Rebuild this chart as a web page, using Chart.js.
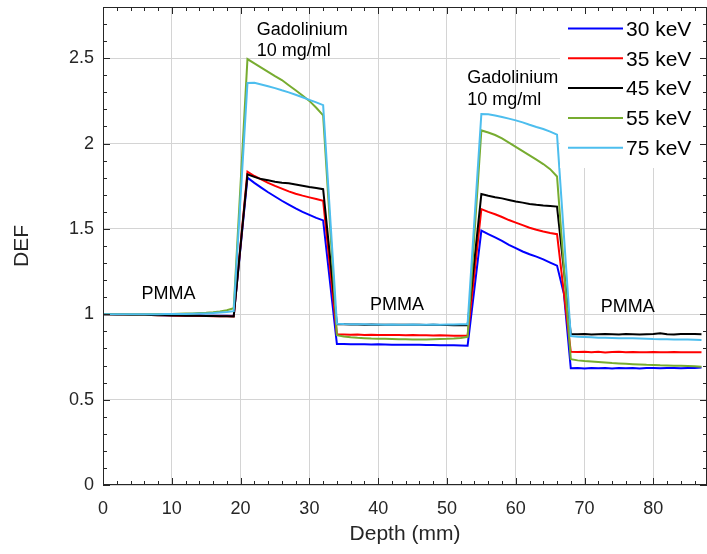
<!DOCTYPE html>
<html>
<head>
<meta charset="utf-8">
<script src="https://cdn.jsdelivr.net/npm/chart.js@4.4.1/dist/chart.umd.min.js"></script>
<style>
  html, body { margin: 0; padding: 0; background: #fff; }
  canvas { display: block; }
</style>
</head>
<body>
<canvas id="chart" width="707" height="554"></canvas>
<script>
// depth in mm, one sample per mm (null = no sample drawn on the edge)
const depth = [
  0, 1, 2, 3, 4, 5, 6, 7, 8, 9, 10, 11, 12, 13, 14, 15, 16, 17, 18, 19,
  20, 21, 22, 23, 24, 25, 26, 27, 28, 29, 30, 31, 32, 33,
  34, 35, 36, 37, 38, 39, 40, 41, 42, 43, 44, 45, 46, 47, 48, 49, 50, 51, 52, 53,
  54, 55, 56, 57, 58, 59, 60, 61, 62, 63, 64, 65, 66, 67,
  68, 69, 70, 71, 72, 73, 74, 75, 76, 77, 78, 79, 80, 81, 82, 83, 84, 85, 86, 87
];

const def30 = [
  1.000, 1.000, 0.999, 0.999, 0.998, 0.998, 0.997, 0.996, 0.996, 0.995, 0.995, 0.994, 0.994, 0.993, 0.993, 0.992, 0.992, 0.991, 0.991, 0.990,
  null, 1.800, 1.770, 1.742, 1.715, 1.690, 1.665, 1.642, 1.620, 1.600, 1.582, 1.565, 1.550, null,
  0.826, 0.826, 0.825, 0.825, 0.824, 0.823, 0.824, 0.823, 0.822, 0.822, 0.821, 0.822, 0.821, 0.820, 0.820, 0.819, 0.819, 0.818, 0.817, 0.816,
  null, 1.490, 1.470, 1.450, 1.430, 1.407, 1.387, 1.368, 1.352, 1.338, 1.322, 1.303, 1.285, 1.120,
  0.684, 0.685, 0.683, 0.686, 0.684, 0.685, 0.682, 0.686, 0.684, 0.685, 0.683, 0.686, 0.685, 0.684, 0.686, 0.685, 0.684, 0.686, 0.685, 0.688
];
const def35 = [
  1.000, 0.999, 0.999, 0.998, 0.998, 0.997, 0.997, 0.996, 0.995, 0.994, 0.993, 0.992, 0.992, 0.991, 0.990, 0.990, 0.989, 0.989, 0.988, 0.987,
  null, 1.835, 1.810, 1.790, 1.770, 1.752, 1.736, 1.720, 1.706, 1.695, 1.685, 1.675, 1.665, null,
  0.882, 0.881, 0.880, 0.881, 0.879, 0.880, 0.879, 0.878, 0.879, 0.878, 0.877, 0.878, 0.877, 0.877, 0.876, 0.877, 0.876, 0.875, 0.875, 0.875,
  null, 1.616, 1.600, 1.586, 1.570, 1.552, 1.537, 1.522, 1.507, 1.495, 1.485, 1.476, 1.469, null,
  0.780, 0.779, 0.781, 0.778, 0.780, 0.776, 0.779, 0.780, 0.778, 0.779, 0.777, 0.778, 0.779, 0.778, 0.778, 0.779, 0.778, 0.777, 0.778, 0.777
];
const def45 = [
  1.000, 1.000, 0.999, 0.999, 0.998, 0.998, 0.997, 0.996, 0.995, 0.994, 0.993, 0.993, 0.992, 0.991, 0.991, 0.990, 0.990, 0.989, 0.988, 0.987,
  null, 1.820, 1.805, 1.792, 1.785, 1.777, 1.771, 1.767, 1.760, 1.753, 1.746, 1.740, 1.733, null,
  0.942, 0.941, 0.940, 0.940, 0.939, 0.940, 0.939, 0.938, 0.939, 0.938, 0.938, 0.939, 0.938, 0.937, 0.938, 0.937, 0.937, 0.936, 0.937, 0.936,
  null, 1.704, 1.694, 1.686, 1.679, 1.670, 1.661, 1.654, 1.646, 1.641, 1.637, 1.634, 1.631, null,
  0.884, 0.883, 0.884, 0.882, 0.883, 0.884, 0.883, 0.882, 0.884, 0.883, 0.882, 0.883, 0.884, 0.889, 0.883, 0.881, 0.884, 0.885, 0.884, 0.883
];
const def55 = [
  1.000, 1.000, 1.000, 1.000, 1.000, 1.000, 1.000, 1.001, 1.001, 1.002, 1.002, 1.003, 1.004, 1.005, 1.007, 1.009, 1.012, 1.017, 1.024, 1.035,
  null, 2.495, 2.470, 2.445, 2.420, 2.395, 2.372, 2.342, 2.312, 2.282, 2.250, 2.210, 2.165, null,
  0.878, 0.870, 0.865, 0.862, 0.860, 0.858, 0.857, 0.856, 0.855, 0.854, 0.854, 0.853, 0.853, 0.853, 0.854, 0.855, 0.856, 0.858, 0.861, 0.868,
  null, 2.077, 2.065, 2.050, 2.030, 2.006, 1.981, 1.956, 1.931, 1.906, 1.880, 1.850, 1.807, null,
  0.737, 0.730, 0.726, 0.723, 0.720, 0.717, 0.714, 0.712, 0.710, 0.708, 0.706, 0.704, 0.703, 0.701, 0.700, 0.699, 0.698, 0.697, 0.695, 0.693
];
const def75 = [
  1.000, 1.000, 1.000, 1.000, 1.000, 1.000, 1.000, 1.000, 1.000, 1.001, 1.001, 1.001, 1.002, 1.003, 1.004, 1.005, 1.007, 1.010, 1.013, 1.018,
  null, 2.355, 2.356, 2.346, 2.336, 2.325, 2.312, 2.300, 2.286, 2.271, 2.256, 2.241, 2.225, null,
  0.945, 0.943, 0.942, 0.941, 0.941, 0.940, 0.940, 0.939, 0.940, 0.939, 0.939, 0.940, 0.939, 0.939, 0.940, 0.939, 0.940, 0.940, 0.941, 0.942,
  null, 2.173, 2.172, 2.165, 2.156, 2.146, 2.136, 2.124, 2.110, 2.097, 2.085, 2.070, 2.052, null,
  0.873, 0.869, 0.867, 0.865, 0.863, 0.862, 0.861, 0.860, 0.860, 0.859, 0.858, 0.857, 0.855, 0.854, 0.854, 0.853, 0.852, 0.852, 0.851, 0.850
];

const seriesLabels = ['30 keV', '35 keV', '45 keV', '55 keV', '75 keV'];
const seriesValues = [def30, def35, def45, def55, def75];
const seriesColors = ['#0000ff', '#ff0000', '#000000', '#77ac30', '#4dbeee'];

// region labels, anchored in data units [depth, DEF]
const regionLabels = [
  { lines: ['Gadolinium', '10 mg/ml'], at: [22.36, 2.638] },
  { lines: ['Gadolinium', '10 mg/ml'], at: [52.95, 2.355] },
  { lines: ['PMMA'], at: [5.58, 1.088] },
  { lines: ['PMMA'], at: [38.8, 1.026] },
  { lines: ['PMMA'], at: [72.35, 1.016] }
];

const FONT = '"Liberation Sans", Arial, Helvetica, sans-serif';
const TEXT = '#262626';

const framePlugin = {
  id: 'frame',
  afterDraw(chart) {
    const c = chart.ctx;
    const a = chart.chartArea;
    const xs = chart.scales.x, ys = chart.scales.y;

    // region annotations
    c.save();
    c.fillStyle = '#000';
    c.font = '18px ' + FONT;
    c.textAlign = 'left';
    c.textBaseline = 'alphabetic';
    regionLabels.forEach(r => {
      const px = xs.getPixelForValue(r.at[0]);
      const py = ys.getPixelForValue(r.at[1]);
      r.lines.forEach((t, i) => c.fillText(t, px, py + i * 21.7));
    });
    c.restore();

    // legend box
    c.save();
    c.fillStyle = '#fff';
    c.fillRect(560, a.top + 1, a.right - 560, 167 - a.top);
    c.font = '21px ' + FONT;
    c.textBaseline = 'middle';
    c.textAlign = 'left';
    seriesLabels.forEach((lab, i) => {
      const y = 28.5 + i * 29.8;
      c.strokeStyle = seriesColors[i];
      c.lineWidth = 2;
      c.beginPath();
      c.moveTo(568, y);
      c.lineTo(623, y);
      c.stroke();
      c.fillStyle = '#000';
      c.fillText(lab, 626, y + 1.5);
    });
    c.restore();

    // box and inward ticks
    c.save();
    c.strokeStyle = TEXT;
    c.lineWidth = 1;
    c.strokeRect(a.left + 0.5, a.top + 0.5, a.right - a.left - 1, a.bottom - a.top - 1);
    c.beginPath();
    for (let v = 0; v <= 88; v += 2) {
      const px = Math.round(xs.getPixelForValue(v)) + 0.5;
      if (px > a.right) break;
      const len = v % 10 === 0 ? 7 : 4;
      c.moveTo(px, a.bottom); c.lineTo(px, a.bottom - len);
      c.moveTo(px, a.top); c.lineTo(px, a.top + len);
    }
    for (let k = 0; k <= 28; k++) {
      const py = Math.round(ys.getPixelForValue(k / 10)) + 0.5;
      const len = k % 5 === 0 ? 7 : 4;
      c.moveTo(a.left, py); c.lineTo(a.left + len, py);
      c.moveTo(a.right, py); c.lineTo(a.right - len, py);
    }
    c.stroke();

    // axis titles
    c.fillStyle = TEXT;
    c.font = '21px ' + FONT;
    c.textAlign = 'center';
    c.textBaseline = 'alphabetic';
    c.fillText('Depth (mm)', (a.left + a.right) / 2, 540);
    c.save();
    c.translate(28, (a.top + a.bottom) / 2);
    c.rotate(-Math.PI / 2);
    c.fillText('DEF', 0, 0);
    c.restore();
    c.restore();
  }
};

const datasets = seriesLabels.map((lab, i) => ({
  label: lab,
  data: depth.map((d, j) => ({ x: d, y: seriesValues[i][j] })),
  borderColor: seriesColors[i],
  borderWidth: 2,
  pointRadius: 0,
  tension: 0,
  spanGaps: true,
  fill: false,
  order: 5 - i
}));

new Chart(document.getElementById('chart').getContext('2d'), {
  type: 'line',
  data: { datasets },
  options: {
    responsive: false,
    animation: false,
    devicePixelRatio: 1,
    layout: { padding: { top: 7, right: 0, left: 0, bottom: 0 } },
    plugins: { legend: { display: false }, tooltip: { enabled: false } },
    scales: {
      x: {
        type: 'linear',
        min: 0,
        max: 87.8,
        ticks: { stepSize: 10, includeBounds: false, padding: 13, maxRotation: 0, color: TEXT, font: { size: 18, family: FONT } },
        grid: { color: '#d4d4d4', drawTicks: false },
        border: { display: false },
        afterFit(s) { s.height = 69; s.paddingLeft = 0; s.paddingRight = 0; }
      },
      y: {
        type: 'linear',
        min: 0,
        max: 2.8,
        ticks: { stepSize: 0.5, includeBounds: false, padding: 9, color: TEXT, font: { size: 18, family: FONT }, callback: v => String(Math.round(v * 10) / 10) },
        grid: { color: '#d4d4d4', drawTicks: false },
        border: { display: false },
        afterFit(s) { s.width = 103; s.paddingTop = 0; s.paddingBottom = 0; }
      }
    }
  },
  plugins: [framePlugin]
});
</script>
</body>
</html>
